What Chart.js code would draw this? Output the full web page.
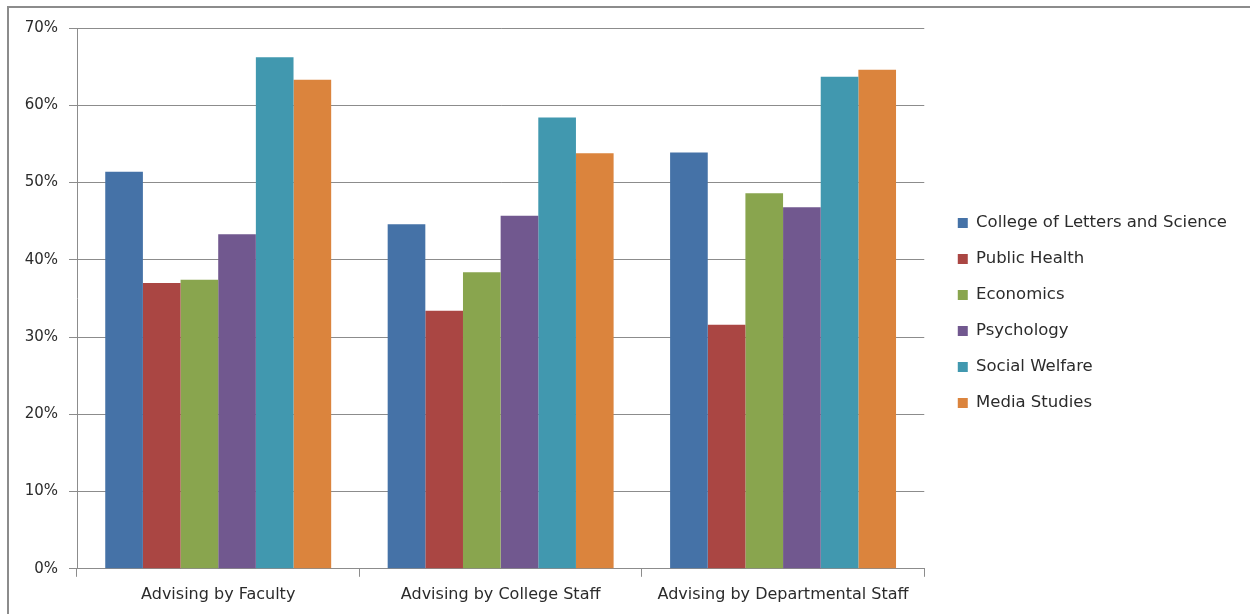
<!DOCTYPE html>
<html>
<head>
<meta charset="utf-8">
<script src="https://cdn.jsdelivr.net/npm/chart.js@4"></script>
<style>
    html, body { margin: 0; padding: 0; background: #fff; }
    #wrap { position: relative; width: 1250px; height: 614px; overflow: hidden; }
    #frame { position: absolute; left: 7px; top: 6px; right: -4px; bottom: -4px; border-top: 2px solid #8c8c8c; border-left: 2px solid #8c8c8c; }
    canvas { position: absolute; left: 0; top: 0; }
</style>
</head>
<body>
<div id="wrap">
    <div id="frame"></div>
    <canvas id="advisingChart" width="1250" height="614"></canvas>
</div>
<script>
// Categories and series (percent)
const categories = ['Advising by Faculty', 'Advising by College Staff', 'Advising by Departmental Staff'];
const lettersScience = [51.4, 44.6, 53.9];
const publicHealth = [37.0, 33.4, 31.6];
const economics = [37.4, 38.4, 48.6];
const psychology = [43.3, 45.7, 46.8];
const socialWelfare = [66.2, 58.4, 63.7];
const mediaStudies = [63.3, 53.8, 64.6];
const yTicks = [0, 10, 20, 30, 40, 50, 60, 70];

const seriesNames = ['College of Letters and Science', 'Public Health', 'Economics', 'Psychology', 'Social Welfare', 'Media Studies'];
const seriesData = [lettersScience, publicHealth, economics, psychology, socialWelfare, mediaStudies];
const seriesColors = ['#4572A7', '#AA4643', '#89A54E', '#71588F', '#4198AF', '#DB843D'];

document.addEventListener('DOMContentLoaded', function() {
    const canvas = document.getElementById('advisingChart');
    const fontFamily = '"DejaVu Sans", "Open Sans", sans-serif';
    const gridColor = '#8c8c8c';
    const textColor = '#2b2b2b';

    new Chart(canvas, {
        type: 'bar',
        data: {
            labels: categories,
            datasets: seriesNames.map(function(name, i) {
                return {
                    label: name,
                    data: seriesData[i],
                    backgroundColor: seriesColors[i],
                    borderWidth: 0,
                    categoryPercentage: 0.8,
                    barPercentage: 1.0
                };
            })
        },
        options: {
            responsive: false,
            animation: false,
            layout: {
                padding: { left: 0, right: 13, top: 28, bottom: 2 }
            },
            scales: {
                x: {
                    grid: {
                        offset: true,
                        drawOnChartArea: false,
                        drawTicks: true,
                        tickLength: 8,
                        color: gridColor
                    },
                    border: { color: gridColor, width: 1 },
                    ticks: {
                        color: textColor,
                        padding: 8,
                        font: { family: fontFamily, size: 16 }
                    }
                },
                y: {
                    min: 0,
                    max: 70,
                    afterBuildTicks: function(scale) {
                        scale.ticks = yTicks.map(function(v) { return { value: v }; });
                    },
                    afterFit: function(scale) {
                        scale.width = 77;
                    },
                    grid: {
                        color: gridColor,
                        tickLength: 8,
                        lineWidth: 1
                    },
                    border: { color: gridColor, width: 1 },
                    ticks: {
                        color: textColor,
                        padding: 11,
                        font: { family: fontFamily, size: 15 },
                        callback: function(value) {
                            return value + '%';
                        }
                    }
                },
                // hidden spacer between the plot and the legend
                gap: {
                    type: 'linear',
                    position: 'right',
                    display: false,
                    afterFit: function(scale) {
                        scale.width = 14;
                    }
                }
            },
            plugins: {
                legend: {
                    position: 'right',
                    align: 'center',
                    fullSize: false,
                    // blank title only nudges the items down a little
                    title: {
                        display: true,
                        text: ' ',
                        font: { size: 10 },
                        padding: { top: 8.5, bottom: 8.5 }
                    },
                    labels: {
                        boxWidth: 10,
                        boxHeight: 10,
                        padding: 19.5,
                        color: textColor,
                        font: { family: fontFamily, size: 16.5 }
                    }
                },
                tooltip: { enabled: false }
            }
        }
    });
});
</script>
</body>
</html>
